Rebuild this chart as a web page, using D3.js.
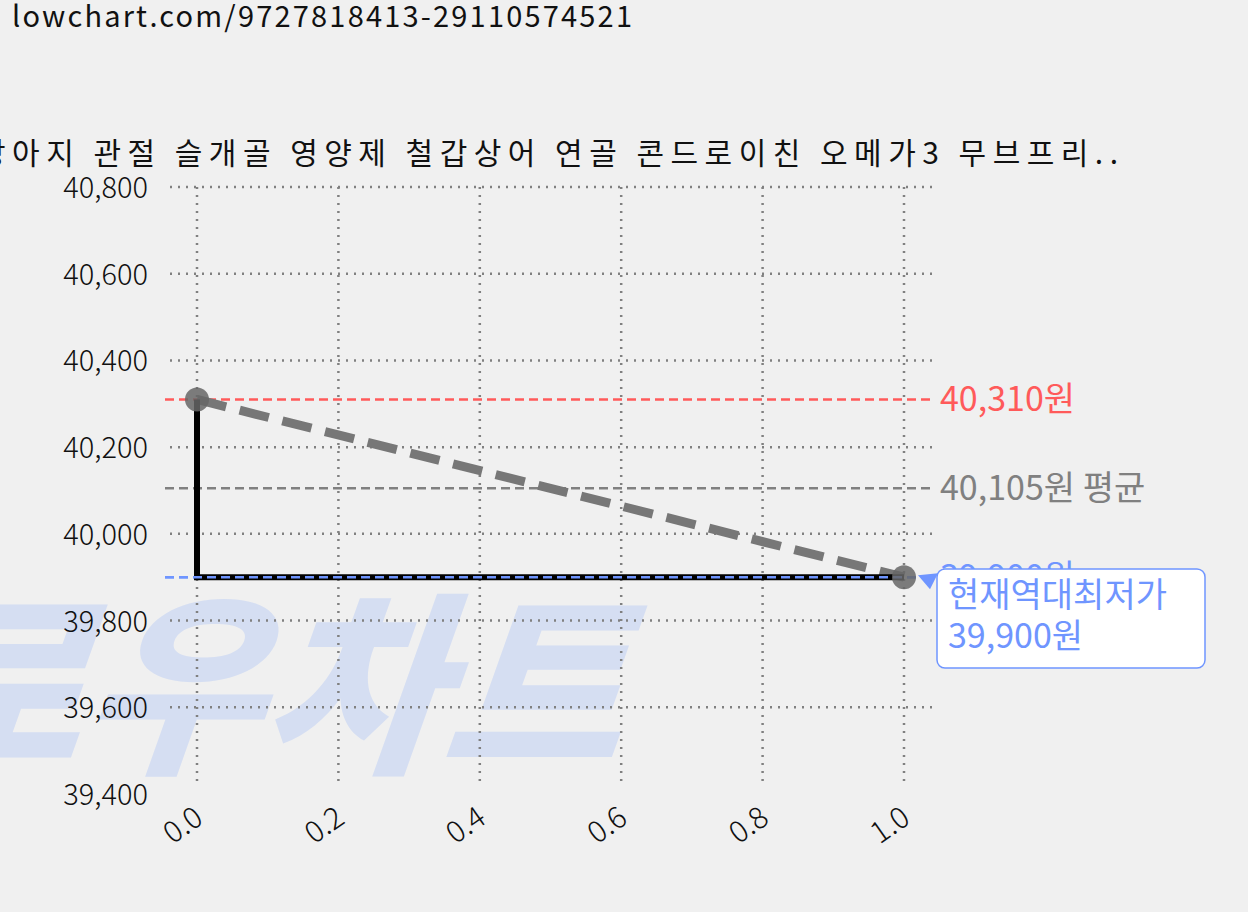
<!DOCTYPE html>
<html><head><meta charset="utf-8">
<script src="https://cdn.jsdelivr.net/npm/d3@7"></script>
<style>body{margin:0;background:#f0f0f0}svg{display:block}text{font-family:"Noto Sans CJK KR","Noto Sans",sans-serif}</style>
</head><body><svg id="c" width="1248" height="912"></svg>
<script>
const xs=[0,1];
const prices=[40310,39900];
const stepPrices=[40310,39900,39900];
const stepX=[0,0,1];
const yTicks=[39400,39600,39800,40000,40200,40400,40600,40800];
const xTicks=[0,0.2,0.4,0.6,0.8,1.0];
const maxP=40310, avgP=40105, minP=39900;
const title="강아지 관절 슬개골 영양제 철갑상어 연골 콘드로이친 오메가3 무브프리..";
const url="lowchart.com/9727818413-29110574521";

const svg=d3.select("#c");
svg.append("rect").attr("width",1248).attr("height",912).attr("fill","#f0f0f0");
const x=d3.scaleLinear().domain([0,1]).range([197,904]);
const y=d3.scaleLinear().domain([39400,40800]).range([794,187]);

// watermark
svg.append("text").attr("x",618).attr("y",758).attr("text-anchor","end")
 .attr("font-size",195).attr("font-weight",900).attr("font-style","italic").attr("textLength",720)
 .attr("fill","#d5def2").attr("transform","skewX(-6) translate(80,0)").text("로우차트");

// grid
svg.selectAll(".hg").data(yTicks.filter(d=>d>39400)).join("line")
 .attr("x1",170).attr("x2",935).attr("y1",d=>y(d)).attr("y2",d=>y(d))
 .attr("stroke","#808080").attr("stroke-width",2.5).attr("stroke-dasharray","2,6");
svg.selectAll(".vg").data(xTicks).join("line")
 .attr("x1",d=>x(d)).attr("x2",d=>x(d)).attr("y1",187).attr("y2",785)
 .attr("stroke","#808080").attr("stroke-width",2.5).attr("stroke-dasharray","2,6");

// y ticks
svg.selectAll(".yt").data(yTicks).join("text")
 .attr("x",148).attr("y",d=>y(d)+11).attr("text-anchor","end").attr("font-size",29)
 .attr("font-family","Roboto").attr("font-weight",300).attr("fill","#111")
 .text(d3.format(",")) ;
svg.selectAll(".xt").data(xTicks).join("text")
 .attr("transform",d=>`translate(${x(d)+8},${822}) rotate(-35)`).attr("text-anchor","end")
 .attr("font-family","Roboto").attr("font-weight",300)
 .attr("font-size",30).attr("fill","#111").text(d3.format(".1f"));

// ref lines
const refs=[[maxP,"#ff5a5a",maxP.toLocaleString()+"원"],[avgP,"#808080",avgP.toLocaleString()+"원 평균"],[minP,"#6f95ff",minP.toLocaleString()+"원"]];
refs.forEach(([v,c,t])=>{
 svg.append("line").attr("x1",165).attr("x2",935).attr("y1",y(v)).attr("y2",y(v))
  .attr("stroke",c).attr("stroke-width",2.5).attr("stroke-dasharray","9,5");
 svg.append("text").attr("x",940).attr("y",y(v)+12).attr("font-size",34).attr("fill",c).text(t);
});

// trend dashed
svg.append("line").attr("x1",x(xs[0])).attr("y1",y(prices[0])).attr("x2",x(xs[1])).attr("y2",y(prices[1]))
 .attr("stroke","#777").attr("stroke-width",9).attr("stroke-dasharray","30,14");
// step
svg.append("path").attr("d",d3.line().x((d,i)=>x(stepX[i])).y(d=>y(d))(stepPrices))
 .attr("fill","none").attr("stroke","#000").attr("stroke-width",6);
svg.append("line").attr("x1",165).attr("x2",935).attr("y1",y(minP)).attr("y2",y(minP))
  .attr("stroke","#6f95ff").attr("stroke-width",2.5).attr("stroke-dasharray","9,5");
svg.selectAll(".pt").data(prices).join("circle").attr("cx",(d,i)=>x(xs[i])).attr("cy",d=>y(d)).attr("r",12)
 .attr("fill","#666").attr("opacity",0.85);

// annotation
svg.append("path").attr("d",`M${x(1)+14},${y(minP)-2} L${x(1)+34},${y(minP)-4} L${x(1)+26},${y(minP)+12} Z`).attr("fill","#6f95ff");
svg.append("rect").attr("x",937).attr("y",569).attr("width",268).attr("height",99).attr("rx",8)
 .attr("fill","#fff").attr("stroke","#6f95ff").attr("stroke-width",1.5);
svg.append("text").attr("x",948).attr("y",607).attr("font-size",34).attr("fill","#6f95ff").text("현재역대최저가");
svg.append("text").attr("x",948).attr("y",648).attr("font-size",34).attr("fill","#6f95ff").text(minP.toLocaleString()+"원");

// title & url
svg.append("text").attr("x",-22).attr("y",164).attr("font-size",30).attr("textLength",1140).attr("fill","#111").text(title);
svg.append("text").attr("x",12).attr("y",27).attr("font-size",29).attr("textLength",620).attr("fill","#111").text(url);
</script></body></html>
